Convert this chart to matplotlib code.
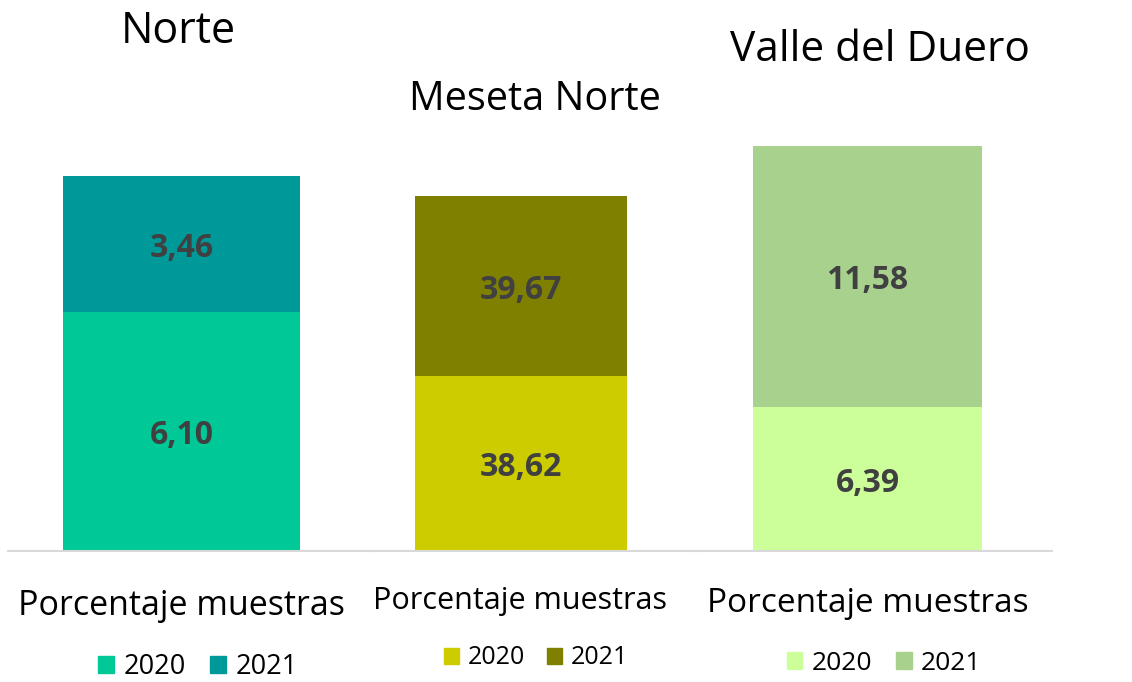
import matplotlib.pyplot as plt
from matplotlib.patches import Patch

plt.rcParams['font.family'] = ['Open Sans', 'DejaVu Sans']

regiones = ['Norte', 'Meseta Norte', 'Valle del Duero']
categoria = 'Porcentaje muestras'
anios = ['2020', '2021']
valores_2020 = [6.10, 38.62, 6.39]
valores_2021 = [3.46, 39.67, 11.58]
colores_2020 = ['#00C896', '#CCCC00', '#CCFF99']
colores_2021 = ['#009999', '#808000', '#A9D18E']

W, H = 1132, 682
fig = plt.figure(figsize=(W / 100, H / 100), dpi=100)

# píxeles: (eje izq, eje der, barra izq, barra der, barra arriba)
base_y = 551
paneles = [(8, 372, 63, 300, 176), (372, 695, 415, 627, 196), (695, 1052, 753, 982, 146)]
titulos = [(178, 32, 31), (535, 100, 28.5), (880, 50, 30.5)]
etiquetas = [(181, 606, 24.5), (520, 601, 22), (868, 604, 24)]
leyendas = [(198, 667, 19.5), (536, 658, 18), (884, 663, 19)]


def fx(px):
    return px / W


def fy(py):
    return 1 - py / H


for i, reg in enumerate(regiones):
    axl, axr, bl, br, bt = paneles[i]
    ax = fig.add_axes([fx(axl), fy(base_y), fx(axr - axl), (base_y - bt) / H])
    total = valores_2020[i] + valores_2021[i]
    c = (bl + br) / 2
    bw = br - bl
    ax.bar([0], [valores_2020[i]], width=1, color=colores_2020[i])
    ax.bar([0], [valores_2021[i]], bottom=[valores_2020[i]], width=1, color=colores_2021[i])
    ax.set_xlim((axl - c) / bw, (axr - c) / bw)
    ax.set_ylim(0, total)
    for s in ['top', 'left', 'right']:
        ax.spines[s].set_visible(False)
    ax.spines['bottom'].set_color('#D9D9D9')
    ax.spines['bottom'].set_linewidth(1.5)
    ax.set_xticks([])
    ax.set_yticks([])
    ax.patch.set_visible(False)

    for y, v in [(valores_2020[i] / 2, valores_2020[i]),
                 (valores_2020[i] + valores_2021[i] / 2, valores_2021[i])]:
        ax.annotate(f'{v:.2f}'.replace('.', ','), (0, y), xytext=(0, -3),
                    textcoords='offset points', ha='center', va='center',
                    fontsize=23, fontweight='bold', color='#404040')

    tx, ty, ts = titulos[i]
    fig.text(fx(tx), fy(ty), reg, ha='center', va='center', fontsize=ts, color='black')
    ex, ey, es = etiquetas[i]
    fig.text(fx(ex), fy(ey), categoria, ha='center', va='center', fontsize=es, color='black')

    lx, ly, ls = leyendas[i]
    handles = [Patch(color=colores_2020[i]), Patch(color=colores_2021[i])]
    fig.legend(handles, anios, loc='center', bbox_to_anchor=(fx(lx), fy(ly)), ncol=2,
               frameon=False, fontsize=ls, handlelength=0.6, handleheight=0.6,
               handletextpad=0.35, columnspacing=0.9)

fig.savefig('out.png', dpi=100, facecolor='white')
